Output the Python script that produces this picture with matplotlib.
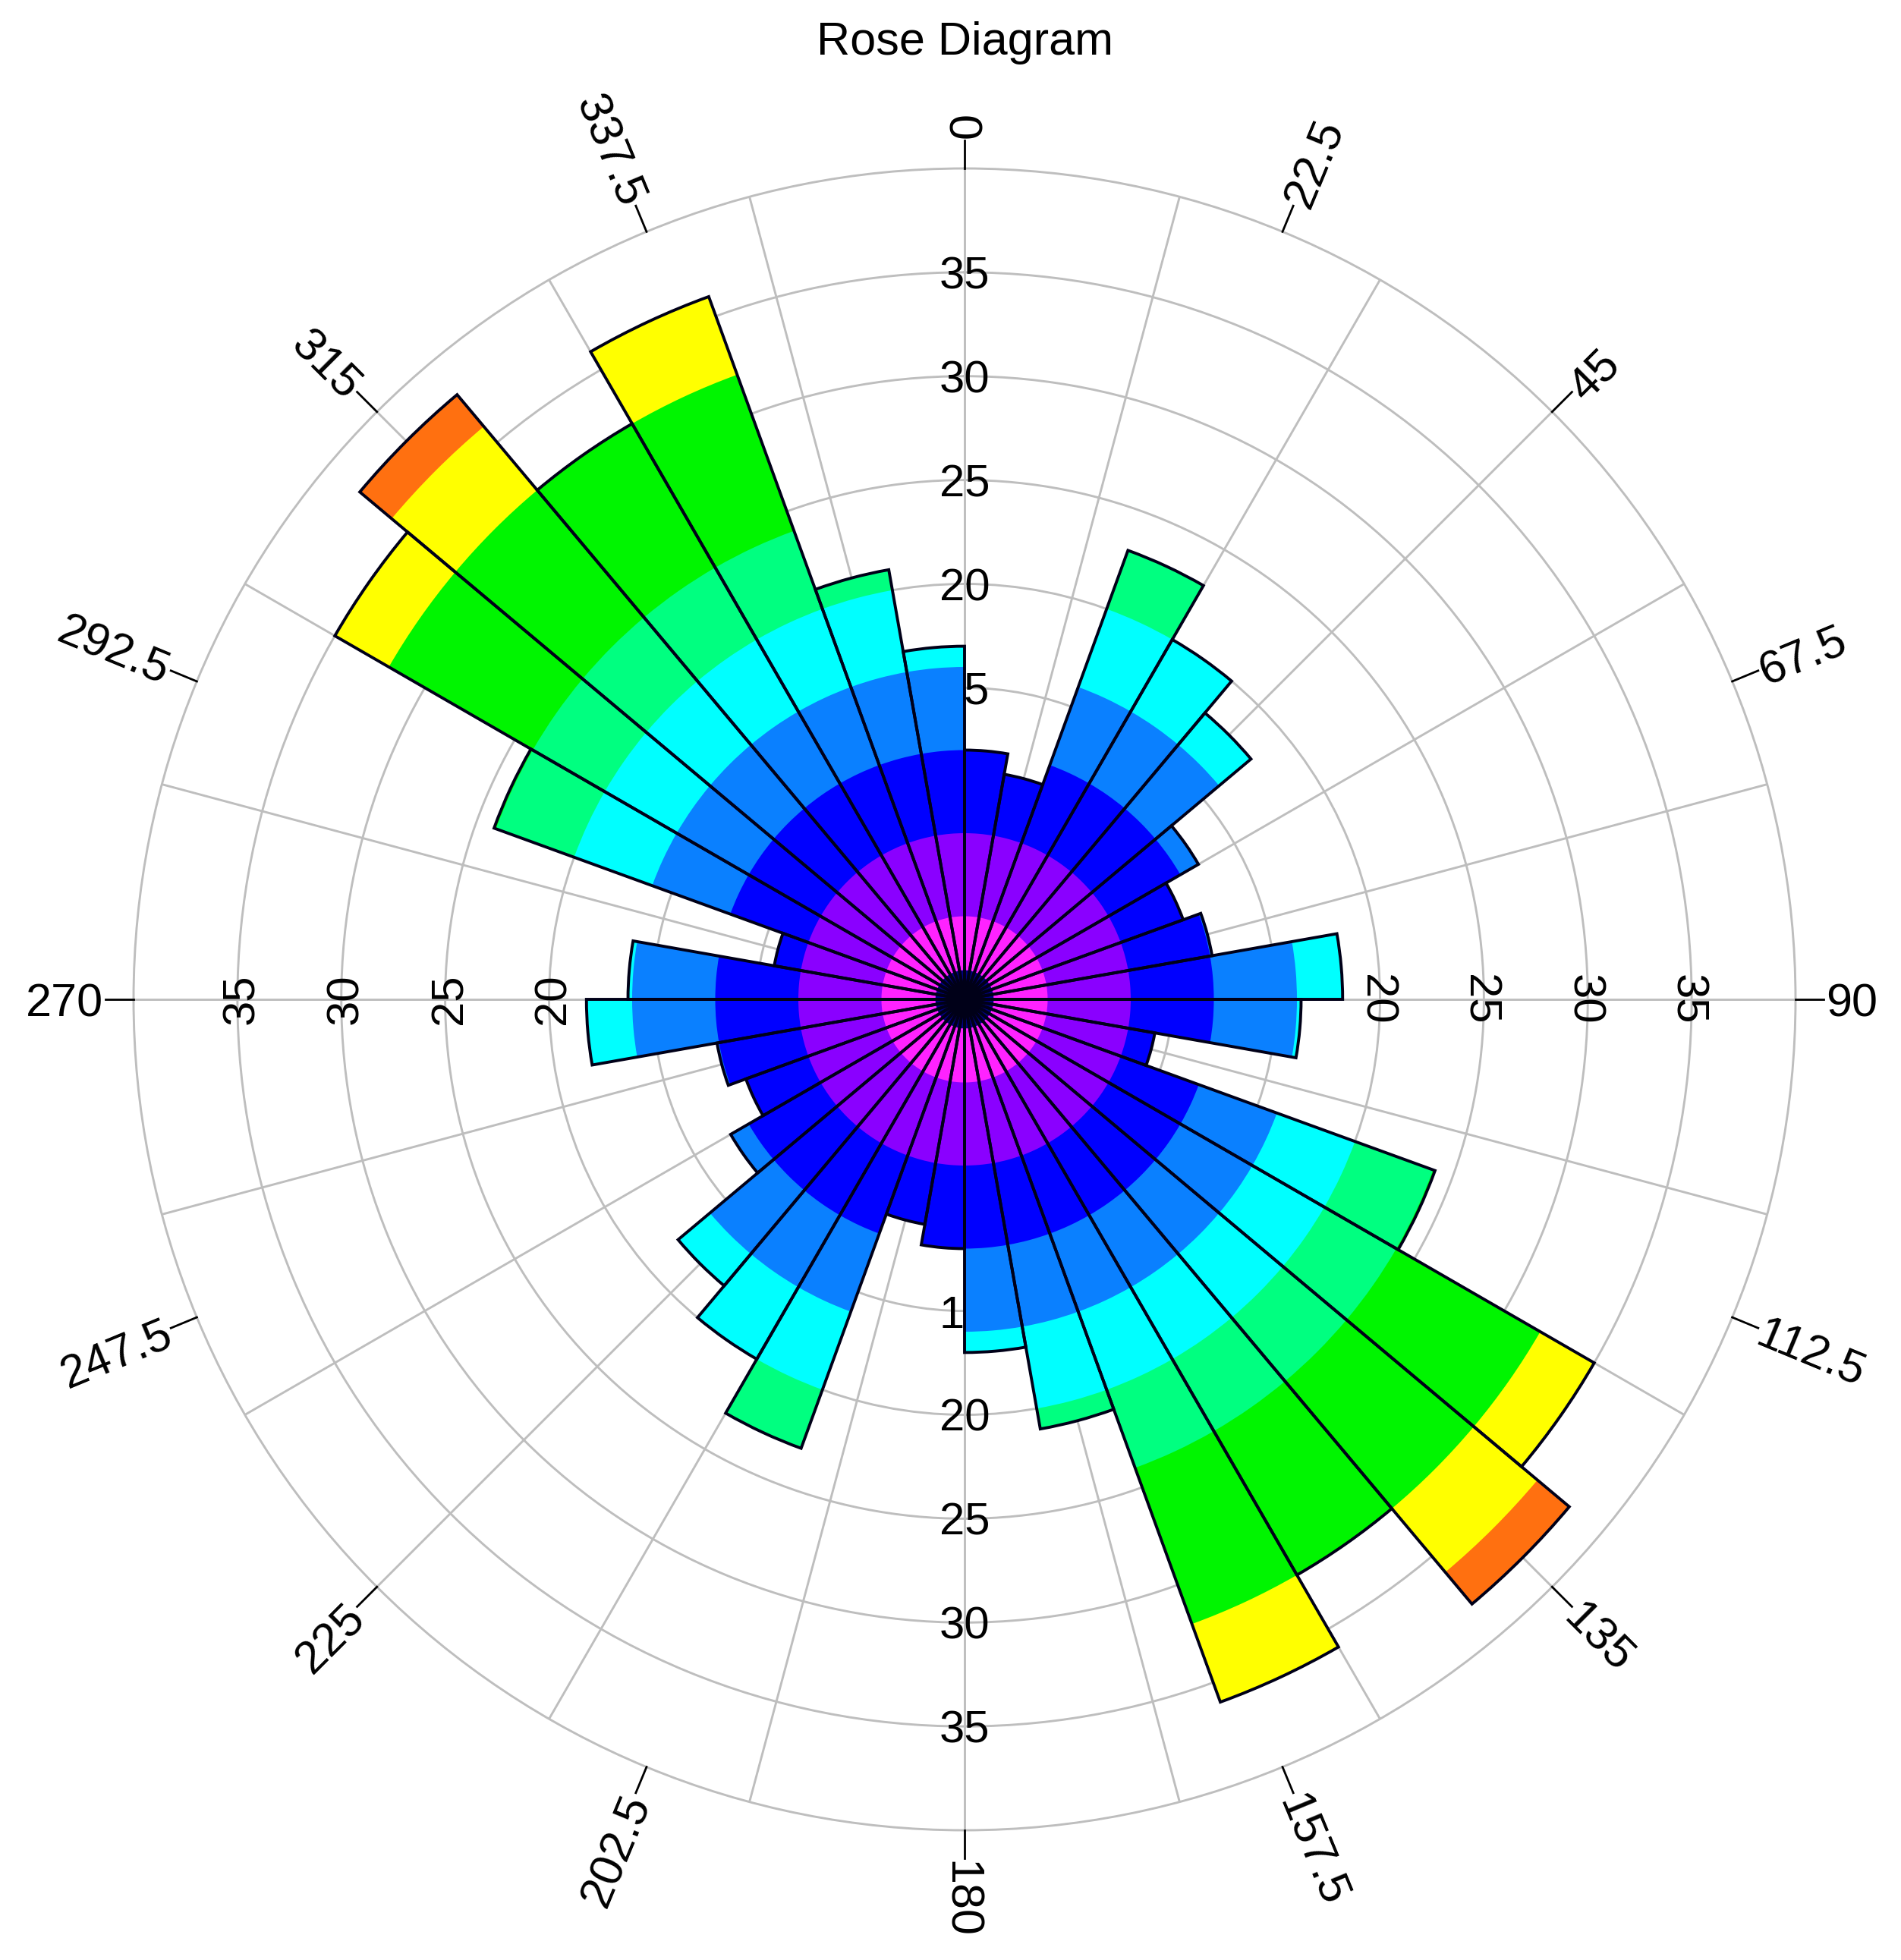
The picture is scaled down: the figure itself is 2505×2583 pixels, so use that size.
import numpy as np
import matplotlib
matplotlib.use('Agg')
import matplotlib.pyplot as plt

plt.rcParams['font.family'] = ['Liberation Sans', 'DejaVu Sans']

# 10 degree bins, clockwise from north
bin_start = list(range(0, 360, 10))
bin_value = [12.0, 11.0, 23.0, 20.0, 18.0, 13.0, 11.2, 12.1, 18.2, 16.2, 9.3, 24.1,
             35.0, 38.0, 32.0, 36.0, 21.0, 17.0,
             12.0, 11.0, 23.0, 20.0, 18.0, 13.0, 11.2, 12.1, 18.2, 16.2, 9.3, 24.1,
             35.0, 38.0, 32.0, 36.0, 21.0, 17.0]

# colour bands along the radius
band_edges = [0, 1.4, 4, 8, 12, 16, 20, 24, 32, 36, 40]
band_colors = ['#000080', '#FF22FF', '#8A00FF', '#0000FF', '#0A80FF',
               '#00FFFF', '#00FF80', '#00F500', '#FFFF00', '#FF7010']

ring_values = [5, 10, 15, 20, 25, 30, 35]
dir_labels = ['0', '22.5', '45', '67.5', '90', '112.5', '135', '157.5',
              '180', '202.5', '225', '247.5', '270', '292.5', '315', '337.5']
dir_angles = [0, 22.5, 45, 67.5, 90, 112.5, 135, 157.5,
              180, 202.5, 225, 247.5, 270, 292.5, 315, 337.5]

W, H = 2505, 2583
cx, cy, R = 1271, 1317, 1095
fig = plt.figure(figsize=(W / 100, H / 100), dpi=100)
ax = fig.add_axes([(cx - R) / W, (H - cy - R) / H, 2 * R / W, 2 * R / H], projection='polar')
ax.set_theta_zero_location('N')
ax.set_theta_direction(-1)
ax.set_ylim(0, 40)

gray = '#BEBEBE'
ax.set_xticks(np.radians(np.arange(0, 360, 15)))
ax.set_xticklabels([])
ax.set_yticks(ring_values)
ax.set_yticklabels([])
ax.tick_params(length=0)
ax.grid(color=gray, linewidth=2.1)
ax.set_axisbelow(True)
ax.spines['polar'].set_color(gray)
ax.spines['polar'].set_linewidth(2.1)

theta = np.radians(bin_start)
width = np.radians(10)
vals = np.array(bin_value)

# outer bands first, inner bands painted over them
for k in range(len(band_colors) - 1, -1, -1):
    h = np.minimum(vals, band_edges[k + 1])
    ax.bar(theta, h, width=width, align='edge', color=band_colors[k],
           linewidth=0, zorder=2)
ax.bar(theta, vals, width=width, align='edge', fill=False,
       edgecolor='#000018', linewidth=2.8, zorder=3)

# radial labels, under the bars
for r in ring_values:
    for ang, rot in [(0, 0), (90, -90), (180, 0), (270, 90)]:
        ax.text(np.radians(ang), r, str(r), rotation=rot, rotation_mode='anchor',
                ha='center', va='center_baseline', fontsize=43, zorder=1)

# direction ticks and labels
for ang, lab in zip(dir_angles, dir_labels):
    t = np.radians(ang)
    ax.plot([t, t], [40, 41.35], color='black', linewidth=2.0, clip_on=False, zorder=3)
    if ang <= 180:
        ax.text(t, 41.45, lab, rotation=90 - ang, rotation_mode='anchor',
                ha='left', va='center_baseline', fontsize=44)
    else:
        ax.text(t, 41.45, lab, rotation=270 - ang, rotation_mode='anchor',
                ha='right', va='center_baseline', fontsize=44)

fig.text(cx / W, 1 - 72 / H, 'Rose Diagram', ha='center', va='baseline', fontsize=44)

fig.savefig('out.png', dpi=100, facecolor='white')
